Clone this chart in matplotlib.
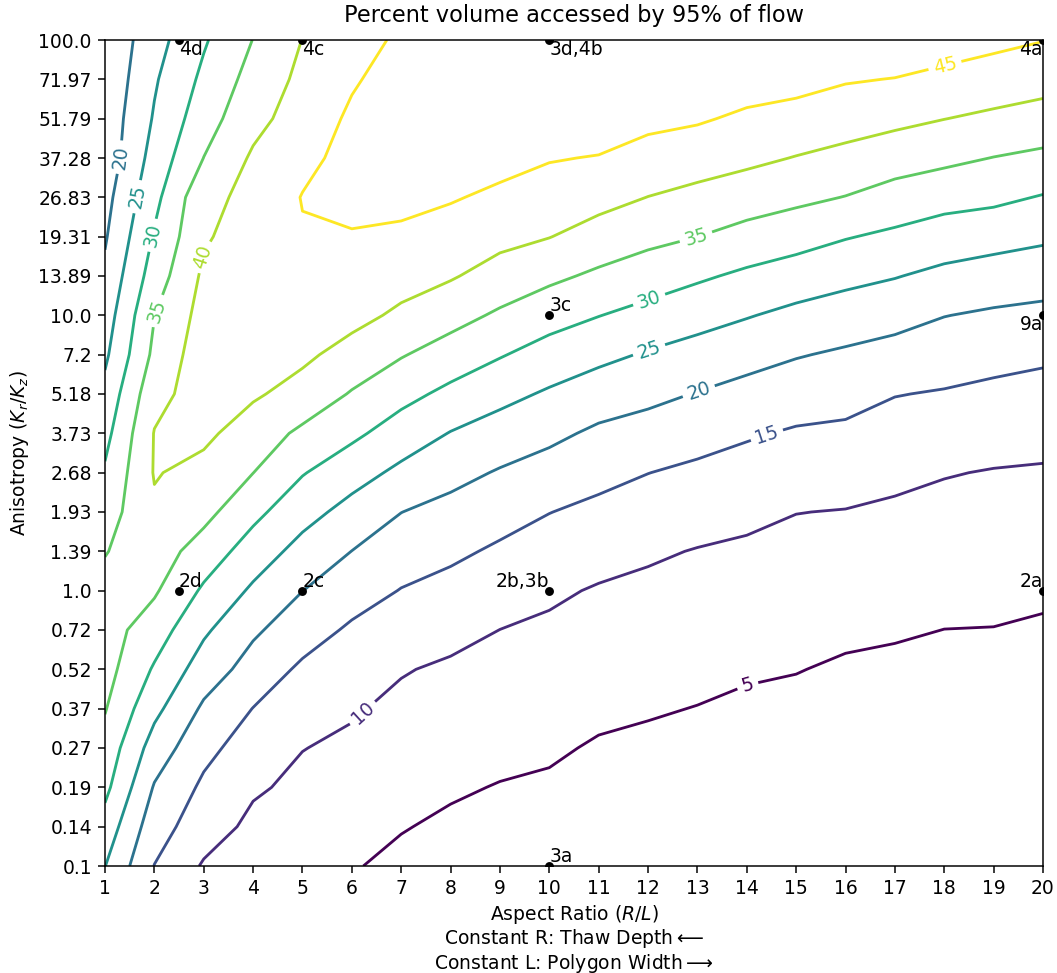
import numpy as np
import matplotlib
matplotlib.use("Agg")
import matplotlib.pyplot as plt

# === DATA
aspect_ratio = list(range(1, 21))

anisotropy = [0.1, 0.138950, 0.193070, 0.268270, 0.372759, 0.517947, 0.719686,
              1.0, 1.389495, 1.930698, 2.682696, 3.727594, 5.179475, 7.196857,
              10.0, 13.894955, 19.306977, 26.826958, 37.275937, 51.794747,
              71.968567, 100.0]
anisotropy_labels = ["0.1", "0.14", "0.19", "0.27", "0.37", "0.52", "0.72", "1.0",
                     "1.39", "1.93", "2.68", "3.73", "5.18", "7.2", "10.0", "13.89",
                     "19.31", "26.83", "37.28", "51.79", "71.97", "100.0"]

# percent volume, one row per anisotropy value (bottom to top), one column per aspect ratio
pct_volume = [
    [25.1, 14.9, 9.5, 8.38, 6.85, 5.31, 3.98, 3.0, 2.6, 2.4, 1.9, 1.7, 1.4, 1.3, 1.2, 1.1, 1.1, 1.0, 1.0, 1.0],
    [28.0, 17.14, 12.3, 8.9, 8.13, 6.76, 5.24, 4.25, 3.6, 3.3, 2.6, 2.4, 2.0, 1.8, 1.7, 1.5, 1.4, 1.3, 1.3, 1.3],
    [31.3, 19.6, 14.1, 10.6, 9.0, 8.07, 6.5, 5.56, 4.79, 4.4, 3.5, 3.2, 2.7, 2.4, 2.3, 2.0, 1.9, 1.7, 1.7, 1.6],
    [33.2, 22.8, 16.4, 12.6, 10.1, 9.2, 8.0, 7.1, 6.2, 5.6, 4.56, 4.15, 3.7, 3.2, 3.0, 2.6, 2.5, 2.2, 2.2, 2.0],
    [35.3, 26.3, 19.2, 14.9, 12.68, 10.45, 9.0, 8.4, 7.6, 6.9, 5.9, 5.38, 4.89, 4.24, 3.93, 3.4, 3.2, 2.9, 2.9, 2.6],
    [36.83, 29.45, 22.6, 18.07, 14.1, 12.62, 10.3, 9.3, 8.8, 8.1, 7.2, 6.62, 6.12, 5.51, 5.15, 4.45, 4.15, 3.8, 3.7, 3.3],
    [37.06, 32.5, 25.8, 20.74, 17.36, 14.2, 12.85, 11.4, 9.97, 9.3, 8.4, 7.85, 7.35, 6.78, 6.37, 5.8, 5.44, 4.97, 4.9, 4.46],
    [36.23, 35.6, 29.25, 24.2, 20.05, 17.33, 14.8, 13.5, 12.11, 10.7, 9.63, 9.09, 8.57, 8.05, 7.59, 7.15, 6.74, 6.26, 6.13, 5.74],
    [34.8, 37.5, 32.8, 27.7, 23.3, 19.95, 17.6, 15.94, 14.28, 12.88, 11.61, 10.58, 9.8, 9.31, 8.81, 8.49, 8.03, 7.55, 7.35, 7.02],
    [32.71, 39.3, 36.5, 31.3, 26.8, 23.3, 20.05, 18.5, 16.8, 15.09, 13.88, 12.81, 11.86, 11.0, 10.07, 9.84, 9.33, 8.84, 8.56, 8.29],
    [30.63, 40.3, 38.6, 35.05, 30.3, 27.0, 23.9, 21.5, 19.59, 18.05, 16.39, 15.06, 14.07, 13.18, 12.28, 11.93, 10.99, 10.22, 9.78, 9.57],
    [28.46, 40.2, 41.0, 37.7, 34.0, 31.05, 27.7, 24.8, 22.85, 21.11, 19.13, 18.07, 16.76, 15.5, 14.49, 14.12, 13.05, 12.43, 11.78, 11.38],
    [26.4, 38.5, 42.2, 40.6, 38.3, 34.6, 31.5, 28.8, 26.42, 24.38, 22.48, 21.2, 19.79, 18.44, 17.29, 16.62, 15.16, 14.65, 13.96, 13.46],
    [24.1, 36.13, 42.8, 42.0, 40.9, 38.3, 35.34, 32.8, 30.35, 28.02, 26.21, 24.53, 23.16, 21.69, 20.31, 19.32, 18.3, 17.32, 16.48, 15.78],
    [22.5, 34.9, 41.8, 42.8, 42.2, 41.4, 39.16, 36.77, 34.26, 31.93, 30.12, 28.44, 26.78, 25.3, 23.78, 22.66, 21.64, 20.11, 19.32, 18.77],
    [21.0, 32.4, 40.87, 43.0, 43.4, 43.0, 41.79, 40.44, 38.09, 36.04, 34.12, 32.44, 30.73, 29.09, 27.69, 26.33, 25.23, 23.81, 22.81, 22.14],
    [19.5, 30.5, 39.4, 42.5, 44.63, 44.6, 44.08, 42.91, 41.34, 40.13, 38.05, 36.3, 35.02, 33.28, 31.93, 30.28, 29.05, 27.64, 26.81, 25.81],
    [18.37, 28.58, 38.75, 41.2, 45.2, 46.6, 46.38, 45.4, 44.03, 42.72, 41.58, 39.93, 38.68, 37.4, 36.11, 34.86, 33.07, 31.76, 31.07, 29.69],
    [16.9, 26.93, 35.06, 40.7, 43.66, 46.64, 47.0, 46.6, 46.6, 45.31, 44.75, 43.24, 42.16, 41.07, 39.81, 38.67, 37.21, 36.11, 34.89, 33.93],
    [16.75, 25.46, 32.85, 38.45, 42.35, 45.75, 46.8, 47.2, 47.3, 46.8, 47.9, 46.2, 45.54, 44.14, 43.23, 42.12, 41.2, 40.07, 39.08, 38.1],
    [16.06, 24.45, 31.05, 36.8, 41.17, 44.5, 46.9, 47.5, 47.7, 47.5, 48.3, 47.5, 47.0, 47.21, 46.63, 45.39, 44.85, 43.72, 42.73, 41.8],
    [15.9, 23.07, 29.45, 35.1, 40.1, 42.95, 45.84, 47.6, 47.9, 47.9, 48.5, 48.0, 47.8, 47.5, 47.5, 47.0, 48.6, 47.37, 46.2, 45.13],
]

levels = [5, 10, 15, 20, 25, 30, 35, 40, 45]

# simulated cases shown on the plot
case_x = [2.5, 5, 10, 20, 10, 20, 2.5, 5, 10, 20, 10]
case_y = [100, 100, 100, 100, 10, 10, 1, 1, 1, 1, 0.1]
case_names = ["4d", "4c", "3d,4b", "4a", "3c", "9a", "2d", "2c", "2b,3b", "2a", "3a"]

# === FIGURE
fig = plt.figure(figsize=(1057 / 135, 973 / 135), dpi=135)
ax = fig.add_axes([105 / 1057, 107 / 973, 938 / 1057, 826 / 973])

# anisotropy is evenly spaced in log10, so plot on log10(K_r/K_z)
log_aniso = np.log10(anisotropy)
X, Y = np.meshgrid(aspect_ratio, log_aniso)
Z = np.array(pct_volume)
cs = ax.contour(X, Y, Z, levels=levels, cmap="viridis")

label_pos = [(1.24, 37.6), (1.64, 27.0), (1.95, 19.56), (2.0, 10.47), (2.99, 16.33),
             (18.01, 81.3), (12.95, 19.89), (12.0, 11.71), (12.0, 7.69), (13.02, 5.35),
             (14.37, 3.84), (6.13, 0.374), (14.0, 0.468)]
ax.clabel(cs, fmt="%d", manual=[(lx, np.log10(ly)) for lx, ly in label_pos])

ax.scatter(case_x, np.log10(case_y), s=14, color="black", zorder=5)
align = {"4d": ("left", "top"), "4c": ("left", "top"), "3d,4b": ("left", "top"),
         "4a": ("right", "top"), "3c": ("left", "bottom"), "9a": ("right", "top"),
         "2d": ("left", "bottom"), "2c": ("left", "bottom"), "2b,3b": ("right", "bottom"),
         "2a": ("right", "bottom"), "3a": ("left", "bottom")}
for cx, cy, name in zip(case_x, case_y, case_names):
    ha, va = align[name]
    ax.text(cx, np.log10(cy), name, ha=ha, va=va, zorder=6)

ax.set_xlim(1, 20)
ax.set_ylim(log_aniso[0], log_aniso[-1])
ax.set_xticks(aspect_ratio)
ax.set_yticks(log_aniso)
ax.set_yticklabels(anisotropy_labels)

ax.set_title("Percent volume accessed by 95% of flow", pad=9.5)
ax.set_xlabel("Aspect Ratio ($R/L$)\nConstant R: Thaw Depth$\\longleftarrow$\n"
              "Constant L: Polygon Width$\\longrightarrow$", linespacing=1.08, labelpad=2.5)
ax.set_ylabel("Anisotropy ($K_r/K_z$)")

fig.savefig("out.png", dpi=135)
